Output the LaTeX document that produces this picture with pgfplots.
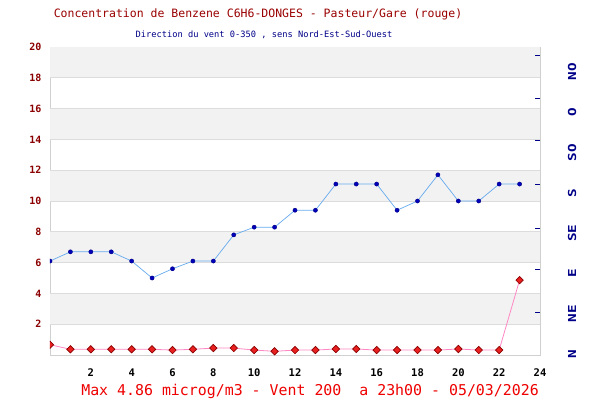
\documentclass[border=0pt]{standalone}
\usepackage{fontspec}
\setmonofont{DejaVu Sans Mono}
\usepackage{pgfplots}
\pgfplotsset{compat=1.18}
\definecolor{titlered}{HTML}{990000}
\definecolor{ylab}{HTML}{8B0000}
\definecolor{navyb}{HTML}{000088}
\definecolor{band}{HTML}{F2F2F2}
\definecolor{gridc}{HTML}{DCDCDC}
\definecolor{borderc}{HTML}{D0D0D0}
\definecolor{blueline}{HTML}{66AAEE}
\definecolor{bluemark}{HTML}{0000BB}
\definecolor{pinkline}{HTML}{FF88C4}
\definecolor{redmark}{HTML}{E82020}
\definecolor{redborder}{HTML}{8A0000}
\definecolor{bottomred}{HTML}{EE0000}

\pgfplotstableread{
x y
0 6.1
1 6.7
2 6.7
3 6.7
4 6.1
5 5.0
6 5.6
7 6.1
8 6.1
9 7.8
10 8.3
11 8.3
12 9.4
13 9.4
14 11.1
15 11.1
16 11.1
17 9.4
18 10.0
19 11.7
20 10.0
21 10.0
22 11.1
23 11.1
}\windtable

\pgfplotstableread{
x y
0 0.67
1 0.37
2 0.37
3 0.37
4 0.37
5 0.37
6 0.32
7 0.37
8 0.45
9 0.45
10 0.32
11 0.24
12 0.32
13 0.32
14 0.39
15 0.39
16 0.32
17 0.32
18 0.32
19 0.32
20 0.39
21 0.32
22 0.32
23 4.86
}\benztable

\begin{document}
\begin{tikzpicture}
\useasboundingbox (-50pt,-45pt) rectangle (550pt,355pt);
\begin{axis}[
  at={(0pt,0pt)}, anchor=south west,
  scale only axis, width=490pt, height=308pt,
  xmin=0, xmax=24, ymin=0, ymax=20,
  xtick={2,4,...,24}, ytick={2,4,...,20},
  major tick length=0pt,
  axis line style={borderc, line width=0.9pt},
  clip marker paths=true,
  /pgf/number format/assume math mode=true,
  xticklabel style={font=\ttfamily\bfseries\fontsize{10.5}{12}\selectfont, text=black, anchor=center, inner sep=0pt, yshift=-18pt},
  yticklabel style={font=\ttfamily\bfseries\fontsize{10}{12}\selectfont, text=ylab, anchor=east, inner sep=0pt, xshift=-8.5pt},
]
\fill[band] (axis cs:0,18) rectangle (axis cs:24,20);
\fill[band] (axis cs:0,14) rectangle (axis cs:24,16);
\fill[band] (axis cs:0,10) rectangle (axis cs:24,12);
\fill[band] (axis cs:0,6) rectangle (axis cs:24,8);
\fill[band] (axis cs:0,2) rectangle (axis cs:24,4);
\foreach \g in {2,4,...,18}{
  \edef\tmp{\noexpand\draw[gridc, line width=0.8pt] (axis cs:0,\g) -- (axis cs:24,\g);}\tmp
}
\addplot[blueline, line width=0.7pt, mark=*, mark size=2.1pt, mark options={fill=bluemark, draw=bluemark!70!black, line width=0.4pt}] table[x=x,y=y] {\windtable};
\addplot[pinkline, line width=0.8pt, mark=square*, mark size=2.6pt, mark options={rotate=45, fill=redmark, draw=redborder, line width=0.7pt}] table[x=x,y=y] {\benztable};
\draw[navyb, line width=1pt] (axis cs:23.755,19.44) -- (axis cs:24,19.44);
\draw[navyb, line width=1pt] (axis cs:23.755,16.67) -- (axis cs:24,16.67);
\draw[navyb, line width=1pt] (axis cs:23.755,13.92) -- (axis cs:24,13.92);
\draw[navyb, line width=1pt] (axis cs:23.755,11.10) -- (axis cs:24,11.10);
\draw[navyb, line width=1pt] (axis cs:23.755,8.23) -- (axis cs:24,8.23);
\draw[navyb, line width=1pt] (axis cs:23.755,5.56) -- (axis cs:24,5.56);
\draw[navyb, line width=1pt] (axis cs:23.755,2.75) -- (axis cs:24,2.75);
\end{axis}
\node[text=titlered, font=\ttfamily\fontsize{11.5}{13}\selectfont] at (208pt,341pt) {Concentration de Benzene C6H6-DONGES - Pasteur/Gare (rouge)};
\node[text=navyb, font=\ttfamily\fontsize{8.7}{10}\selectfont] at (214pt,320pt) {Direction du vent 0-350 , sens Nord-Est-Sud-Ouest};
\node[text=bottomred, font=\ttfamily\fontsize{14.9}{17}\selectfont, anchor=east, inner sep=0pt] at (489pt,-36.5pt) {Max 4.86 microg/m3 - Vent 200~~a 23h00 - 05/03/2026};
\foreach \lab [count=\i from 0] in {N,NE,E,SE,S,SO,O,NO}{
  \node[rotate=90, text=navyb, font=\ttfamily\bfseries\fontsize{11}{13}\selectfont, inner sep=0pt] at (522pt,{(1+40.3*\i)*1pt}) {\scalebox{1.3}[1]{\lab}};
}
\end{tikzpicture}
\end{document}
